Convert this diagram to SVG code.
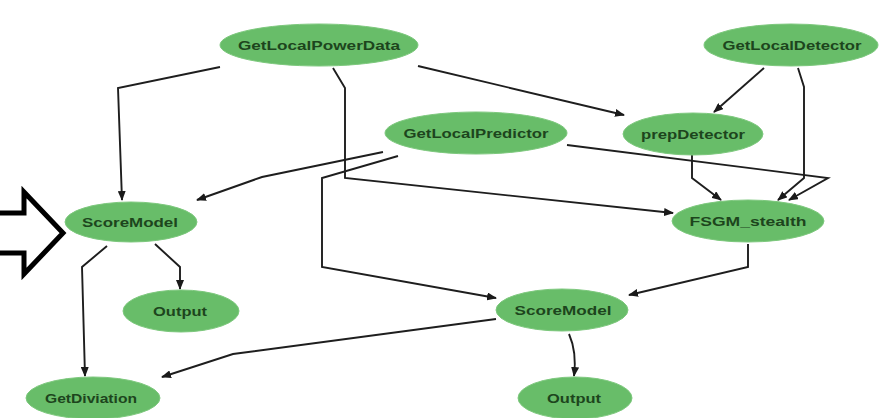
<svg xmlns="http://www.w3.org/2000/svg" width="882" height="418" viewBox="0 0 882 418">
<defs>
<marker id="ah" markerUnits="userSpaceOnUse" markerWidth="10" markerHeight="8" refX="9" refY="4" orient="auto">
<path d="M0,0 L10,4 L0,8 z" fill="#1a1a1a"/>
</marker>
<style>
.n ellipse{fill:#68bd69;stroke:#7dc87d;stroke-width:1}
.n text{font-family:"Liberation Sans",Arial,sans-serif;font-size:13px;font-weight:bold;fill:#1d451d;text-anchor:middle}
.e path{fill:none;stroke:#1e1e1e;stroke-width:1.9;marker-end:url(#ah)}
</style>
</defs>
<rect width="882" height="418" fill="#ffffff"/>
<g id="connectors" class="e">
<path d="M220,67 L118,88 L122,200"/>
<path d="M418,66 L624,115"/>
<path d="M333,68 L345,88 L345,178 L673,213"/>
<path d="M383,152 L262,177 L197,200"/>
<path d="M398,156 L322,178 L322,267 L496,298"/>
<path d="M567,145 L828,178 L789,200"/>
<path d="M764,68 L714,112"/>
<path d="M798,68 L804,87 L804,178 L778,200"/>
<path d="M692,155 L692,178 L721,200"/>
<path d="M748,244 L748,267 L629,295"/>
<path d="M155,244 L180,267 L180,289"/>
<path d="M107,246 L82,267 L85,376"/>
<path d="M496,319 L233,354 L162,377"/>
<path d="M569,334 Q577,352 574,376"/>
</g>
<g id="GetLocalPowerData" class="n"><ellipse cx="319" cy="45" rx="99" ry="21"/><text x="319" y="50" textLength="162" lengthAdjust="spacingAndGlyphs">GetLocalPowerData</text></g>
<g id="GetLocalDetector" class="n"><ellipse cx="791" cy="45" rx="87" ry="21"/><text x="792" y="50" textLength="139" lengthAdjust="spacingAndGlyphs">GetLocalDetector</text></g>
<g id="GetLocalPredictor" class="n"><ellipse cx="476" cy="133" rx="91" ry="21"/><text x="476" y="138" textLength="145" lengthAdjust="spacingAndGlyphs">GetLocalPredictor</text></g>
<g id="prepDetector" class="n"><ellipse cx="693" cy="134" rx="70" ry="21"/><text x="693" y="139" textLength="104" lengthAdjust="spacingAndGlyphs">prepDetector</text></g>
<g id="ScoreModel1" class="n"><ellipse cx="131" cy="222" rx="66" ry="20"/><text x="130" y="227" textLength="96" lengthAdjust="spacingAndGlyphs">ScoreModel</text></g>
<g id="FSGM_stealth" class="n"><ellipse cx="748" cy="221" rx="76" ry="21"/><text x="748" y="226" textLength="117" lengthAdjust="spacingAndGlyphs">FSGM_stealth</text></g>
<g id="ScoreModel2" class="n"><ellipse cx="562" cy="310" rx="66" ry="21"/><text x="563" y="315" textLength="97" lengthAdjust="spacingAndGlyphs">ScoreModel</text></g>
<g id="Output1" class="n"><ellipse cx="181" cy="311" rx="58" ry="21"/><text x="180" y="316" textLength="54" lengthAdjust="spacingAndGlyphs">Output</text></g>
<g id="Output2" class="n"><ellipse cx="575" cy="398" rx="57" ry="21"/><text x="574" y="403" textLength="54" lengthAdjust="spacingAndGlyphs">Output</text></g>
<g id="GetDiviation" class="n"><ellipse cx="93" cy="398" rx="67" ry="21"/><text x="91" y="403" textLength="92" lengthAdjust="spacingAndGlyphs">GetDiviation</text></g>
<g id="pointer">
<path d="M-6,213 L24,213 L24,192 L63,233 L24,274 L24,253 L-6,253 Z" fill="#ffffff" stroke="#000000" stroke-width="5" stroke-linejoin="miter"/>
</g>
</svg>
